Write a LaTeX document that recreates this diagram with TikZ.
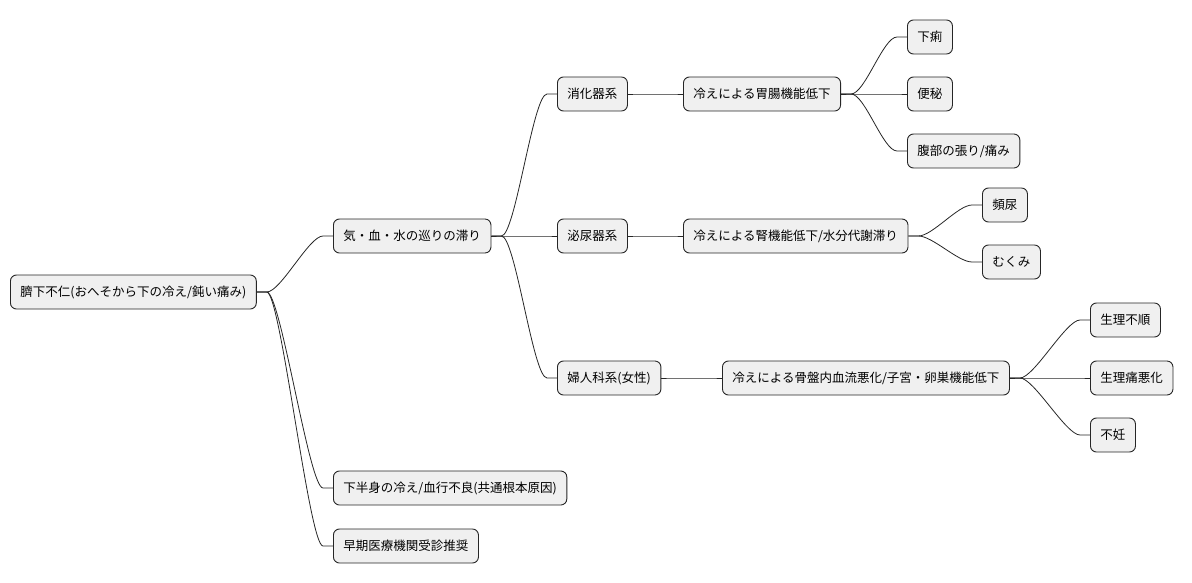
\documentclass[tikz,border=0pt]{standalone}
\usepackage{fontspec}
\setmainfont{Noto Sans CJK JP}
\begin{document}
\begin{tikzpicture}[x=1pt,y=-1pt,
  box/.style={draw=black!85,fill=black!6,line width=0.9pt,rounded corners=6pt,
    minimum height=34pt,inner xsep=10pt,anchor=west,font=\fontsize{12.5}{14}\selectfont},
  link/.style={draw=black!85,line width=0.8pt}]
\useasboundingbox (0,0) rectangle (1192,583);
\node[box] (r) at (10,292) {臍下不仁(おへそから下の冷え/鈍い痛み)};
\node[box] (a) at (333,236) {気・血・水の巡りの滞り};
\node[box] (b) at (333,488) {下半身の冷え/血行不良(共通根本原因)};
\node[box] (c) at (333,546) {早期医療機関受診推奨};
\node[box] (a1) at (557,94) {消化器系};
\node[box] (a2) at (557,236) {泌尿器系};
\node[box] (a3) at (557,378) {婦人科系(女性)};
\node[box] (a1a) at (683,94) {冷えによる胃腸機能低下};
\node[box] (a2a) at (683,236) {冷えによる腎機能低下/水分代謝滞り};
\node[box] (a3a) at (722,378) {冷えによる骨盤内血流悪化/子宮・卵巣機能低下};
\node[box] (l1) at (907,37) {下痢};
\node[box] (l2) at (907,94) {便秘};
\node[box] (l3) at (907,151) {腹部の張り/痛み};
\node[box] (l4) at (982,205) {頻尿};
\node[box] (l5) at (982,262) {むくみ};
\node[box] (l6) at (1090,320) {生理不順};
\node[box] (l7) at (1090,378) {生理痛悪化};
\node[box] (l8) at (1090,435) {不妊};
\foreach \p/\q in {r/a,r/b,r/c,a/a1,a/a2,a/a3,a1/a1a,a2/a2a,a3/a3a,a1a/l1,a1a/l2,a1a/l3,a2a/l4,a2a/l5,a3a/l6,a3a/l7,a3a/l8}{
  \draw[link] (\p.east) -- ++(10,0) .. controls +(14,0) and +(-14,0) .. ([xshift=-10pt]\q.west) -- (\q.west);
}
\end{tikzpicture}
\end{document}
